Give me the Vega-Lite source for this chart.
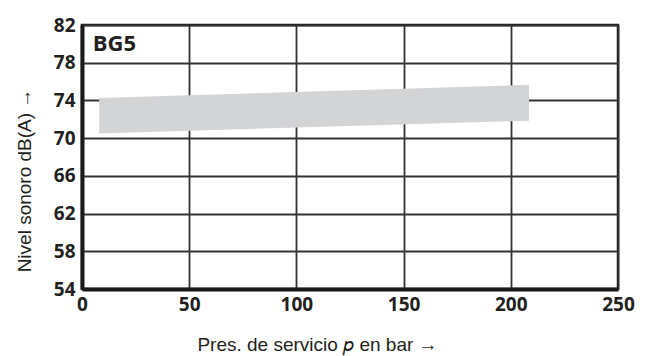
{
  "$schema": "https://vega.github.io/schema/vega-lite/v6.json",
  "width": 536,
  "height": 264,
  "autosize": "none",
  "padding": {"left": 82, "top": 25, "right": 32, "bottom": 67},
  "background": "white",
  "config": {
    "view": {"stroke": "#1a1a1a", "strokeWidth": 2.5},
    "axis": {
      "grid": true,
      "gridColor": "#333333",
      "gridWidth": 1.8,
      "gridOpacity": 1,
      "ticks": false,
      "domainColor": "#1a1a1a",
      "domainWidth": 4,
      "labelFont": "Open Sans",
      "labelFontWeight": 700,
      "labelFontSize": 19,
      "labelColor": "#231f20",
      "labelOverlap": false,
      "titleFont": "Liberation Sans",
      "titleFontWeight": "normal",
      "titleFontSize": 19,
      "titleColor": "#231f20",
      "zindex": 1
    }
  },
  "data": {
    "values": [
      {"p": 8, "lo": 70.5, "hi": 74.25},
      {"p": 208.5, "lo": 71.85, "hi": 75.65}
    ]
  },
  "encoding": {
    "x": {
      "field": "p",
      "type": "quantitative",
      "scale": {"domain": [0, 250], "nice": false},
      "axis": {
        "values": [0, 50, 100, 150, 200, 250],
        "labelPadding": 6,
        "labelFlush": false,
        "title": "Pres. de servicio 𝑝 en bar →",
        "titleX": 235,
        "titleY": 61,
        "titleAlign": "center",
        "titleBaseline": "alphabetic"
      }
    },
    "y": {
      "field": "lo",
      "type": "quantitative",
      "scale": {"domain": [54, 82], "nice": false, "zero": false},
      "axis": {
        "values": [54, 58, 62, 66, 70, 74, 78, 82],
        "labelPadding": 7,
        "labelFlush": false,
        "title": "Nivel sonoro dB(A) →",
        "titleX": -58,
        "titleY": 155,
        "titleAngle": -90,
        "titleAlign": "center",
        "titleBaseline": "middle"
      }
    }
  },
  "layer": [
    {
      "mark": {"type": "area", "color": "#d3d4d6", "opacity": 1},
      "encoding": {
        "y2": {"field": "hi"}
      }
    },
    {
      "data": {"values": [{"p": 5, "lo": 79.2, "label": "BG5"}]},
      "mark": {
        "type": "text",
        "align": "left",
        "baseline": "alphabetic",
        "font": "Open Sans",
        "fontWeight": 700,
        "fontSize": 22,
        "color": "#231f20"
      },
      "encoding": {
        "text": {"field": "label"}
      }
    }
  ]
}
